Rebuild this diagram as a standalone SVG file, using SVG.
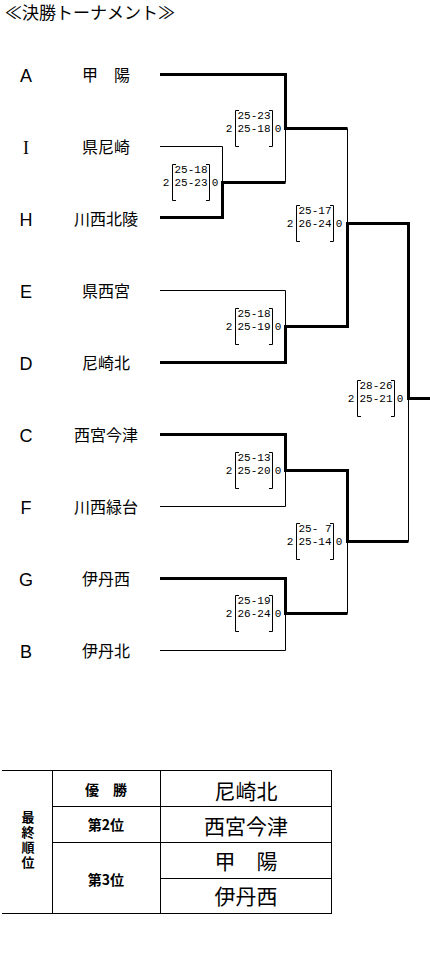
<svg xmlns="http://www.w3.org/2000/svg" width="430" height="957" viewBox="0 0 430 957">
<style>
.bg{fill:#fff}
.thick{fill:none;stroke:#000;stroke-width:3;stroke-linejoin:miter}
.thin{fill:none;stroke:#000;stroke-width:1}
.title{font-family:"Noto Sans CJK JP","Noto Sans",sans-serif;font-size:17px;fill:#000}
.let{font-family:"Liberation Sans",Arial,sans-serif;font-size:18px;fill:#000;text-anchor:middle}
.letI{font-family:"Liberation Serif",serif;font-size:18px;fill:#000;text-anchor:middle}
.name{font-family:"Noto Sans CJK JP",sans-serif;font-size:16px;fill:#000;text-anchor:middle}
.s{font-family:"Liberation Mono",monospace;font-size:11px;fill:#000;text-anchor:middle;white-space:pre}
.br{fill:none;stroke:#000;stroke-width:1}
.tb{font-family:"Noto Sans CJK JP",sans-serif;font-size:14px;font-weight:bold;fill:#000;text-anchor:middle}
.tv{font-family:"Noto Sans CJK JP",sans-serif;font-size:13px;font-weight:bold;fill:#000;writing-mode:vertical-rl;letter-spacing:2px}
.tn{font-family:"Noto Sans CJK JP",sans-serif;font-size:21px;fill:#000;text-anchor:middle}
</style>
<rect class="bg" x="0" y="0" width="430" height="957"/>
<text class="title" x="5" y="19">≪決勝トーナメント≫</text>

<g id="teamA"><text class="let" x="26" y="82">A</text><text class="name" x="106" y="81">甲　陽</text></g>
<g id="teamI"><text class="letI" x="26" y="154">I</text><text class="name" x="106" y="153">県尼崎</text></g>
<g id="teamH"><text class="let" x="26" y="226">H</text><text class="name" x="106" y="225">川西北陵</text></g>
<g id="teamE"><text class="let" x="26" y="298">E</text><text class="name" x="106" y="297">県西宮</text></g>
<g id="teamD"><text class="let" x="26" y="370">D</text><text class="name" x="106" y="369">尼崎北</text></g>
<g id="teamC"><text class="let" x="26" y="442">C</text><text class="name" x="106" y="441">西宮今津</text></g>
<g id="teamF"><text class="let" x="26" y="514">F</text><text class="name" x="106" y="513">川西緑台</text></g>
<g id="teamG"><text class="let" x="26" y="586">G</text><text class="name" x="106" y="585">伊丹西</text></g>
<g id="teamB"><text class="let" x="26" y="658">B</text><text class="name" x="106" y="657">伊丹北</text></g>

<g id="connectors">
<path class="thin" d="M160,146.5 H222.5 V182.5"/>
<path class="thin" d="M285.5,128.5 V182.5"/>
<path class="thin" d="M347.5,128.5 V223.5"/>
<path class="thin" d="M160,290.5 H285.5 V326.5"/>
<path class="thin" d="M160,506.5 H285.5 V470.5"/>
<path class="thin" d="M160,650.5 H285.5 V613.5"/>
<path class="thin" d="M347.5,541.5 V613.5"/>
<path class="thin" d="M408.5,398.5 V541.5"/>
<path class="thick" d="M160,74.5 H285.5 V128.5 H347.5"/>
<path class="thick" d="M160,217.5 H222.5 V182.5 H285.5"/>
<path class="thick" d="M160,362.5 H285.5 V326.5 H347.5 V223.5 H408.5 V398.5 H430"/>
<path class="thick" d="M160,434.5 H285.5 V470.5 H347.5 V541.5 H408.5"/>
<path class="thick" d="M160,578.5 H285.5 V613.5 H347.5"/>
</g>

<defs>
<path id="brk" d="M-47,-17.5 H-50.5 V18.5 H-47 M-17,-17.5 H-13.5 V18.5 H-17"/>
</defs>

<g id="scoreIH" transform="translate(223,182)">
<text class="s" x="-57" y="4">2</text><use href="#brk" class="br"/>
<text class="s" x="-32" y="-9">25-18</text><text class="s" x="-32" y="4">25-23</text>
<text class="s" x="-8" y="4">0</text></g>
<g id="scoreA" transform="translate(286,128)">
<text class="s" x="-57" y="4">2</text><use href="#brk" class="br"/>
<text class="s" x="-32" y="-9">25-23</text><text class="s" x="-32" y="4">25-18</text>
<text class="s" x="-8" y="4">0</text></g>
<g id="scoreED" transform="translate(286,326)">
<text class="s" x="-57" y="4">2</text><use href="#brk" class="br"/>
<text class="s" x="-32" y="-9">25-18</text><text class="s" x="-32" y="4">25-19</text>
<text class="s" x="-8" y="4">0</text></g>
<g id="scoreQF1" transform="translate(347,223)">
<text class="s" x="-57" y="4">2</text><use href="#brk" class="br"/>
<text class="s" x="-32" y="-9">25-17</text><text class="s" x="-32" y="4">26-24</text>
<text class="s" x="-8" y="4">0</text></g>
<g id="scoreFinal" transform="translate(408,398)">
<text class="s" x="-57" y="4">2</text><use href="#brk" class="br"/>
<text class="s" x="-32" y="-9">28-26</text><text class="s" x="-32" y="4">25-21</text>
<text class="s" x="-8" y="4">0</text></g>
<g id="scoreCF" transform="translate(286,470)">
<text class="s" x="-57" y="4">2</text><use href="#brk" class="br"/>
<text class="s" x="-32" y="-9">25-13</text><text class="s" x="-32" y="4">25-20</text>
<text class="s" x="-8" y="4">0</text></g>
<g id="scoreQF2" transform="translate(347,541)">
<text class="s" x="-57" y="4">2</text><use href="#brk" class="br"/>
<text class="s" x="-32" y="-9" xml:space="preserve">25- 7</text><text class="s" x="-32" y="4">25-14</text>
<text class="s" x="-8" y="4">0</text></g>
<g id="scoreGB" transform="translate(286,613)">
<text class="s" x="-57" y="4">2</text><use href="#brk" class="br"/>
<text class="s" x="-32" y="-9">25-19</text><text class="s" x="-32" y="4">26-24</text>
<text class="s" x="-8" y="4">0</text></g>

<g id="ranking">
<path class="thin" d="M2,770.5 H331.5 M2,913.5 H331.5 M52.5,770 V914 M160.5,770 V914 M331.5,770 V914 M52.5,806.5 H331.5 M52.5,842.5 H331.5 M160.5,878.5 H331.5"/>
<text class="tv" x="28" y="811">最終順位</text>
<text class="tb" x="106" y="795">優　勝</text>
<text class="tb" x="106" y="830">第2位</text>
<text class="tb" x="106" y="885">第3位</text>
<text class="tn" x="246" y="799">尼崎北</text>
<text class="tn" x="246" y="834">西宮今津</text>
<text class="tn" x="246" y="869">甲　陽</text>
<text class="tn" x="246" y="904">伊丹西</text>
</g>
</svg>
